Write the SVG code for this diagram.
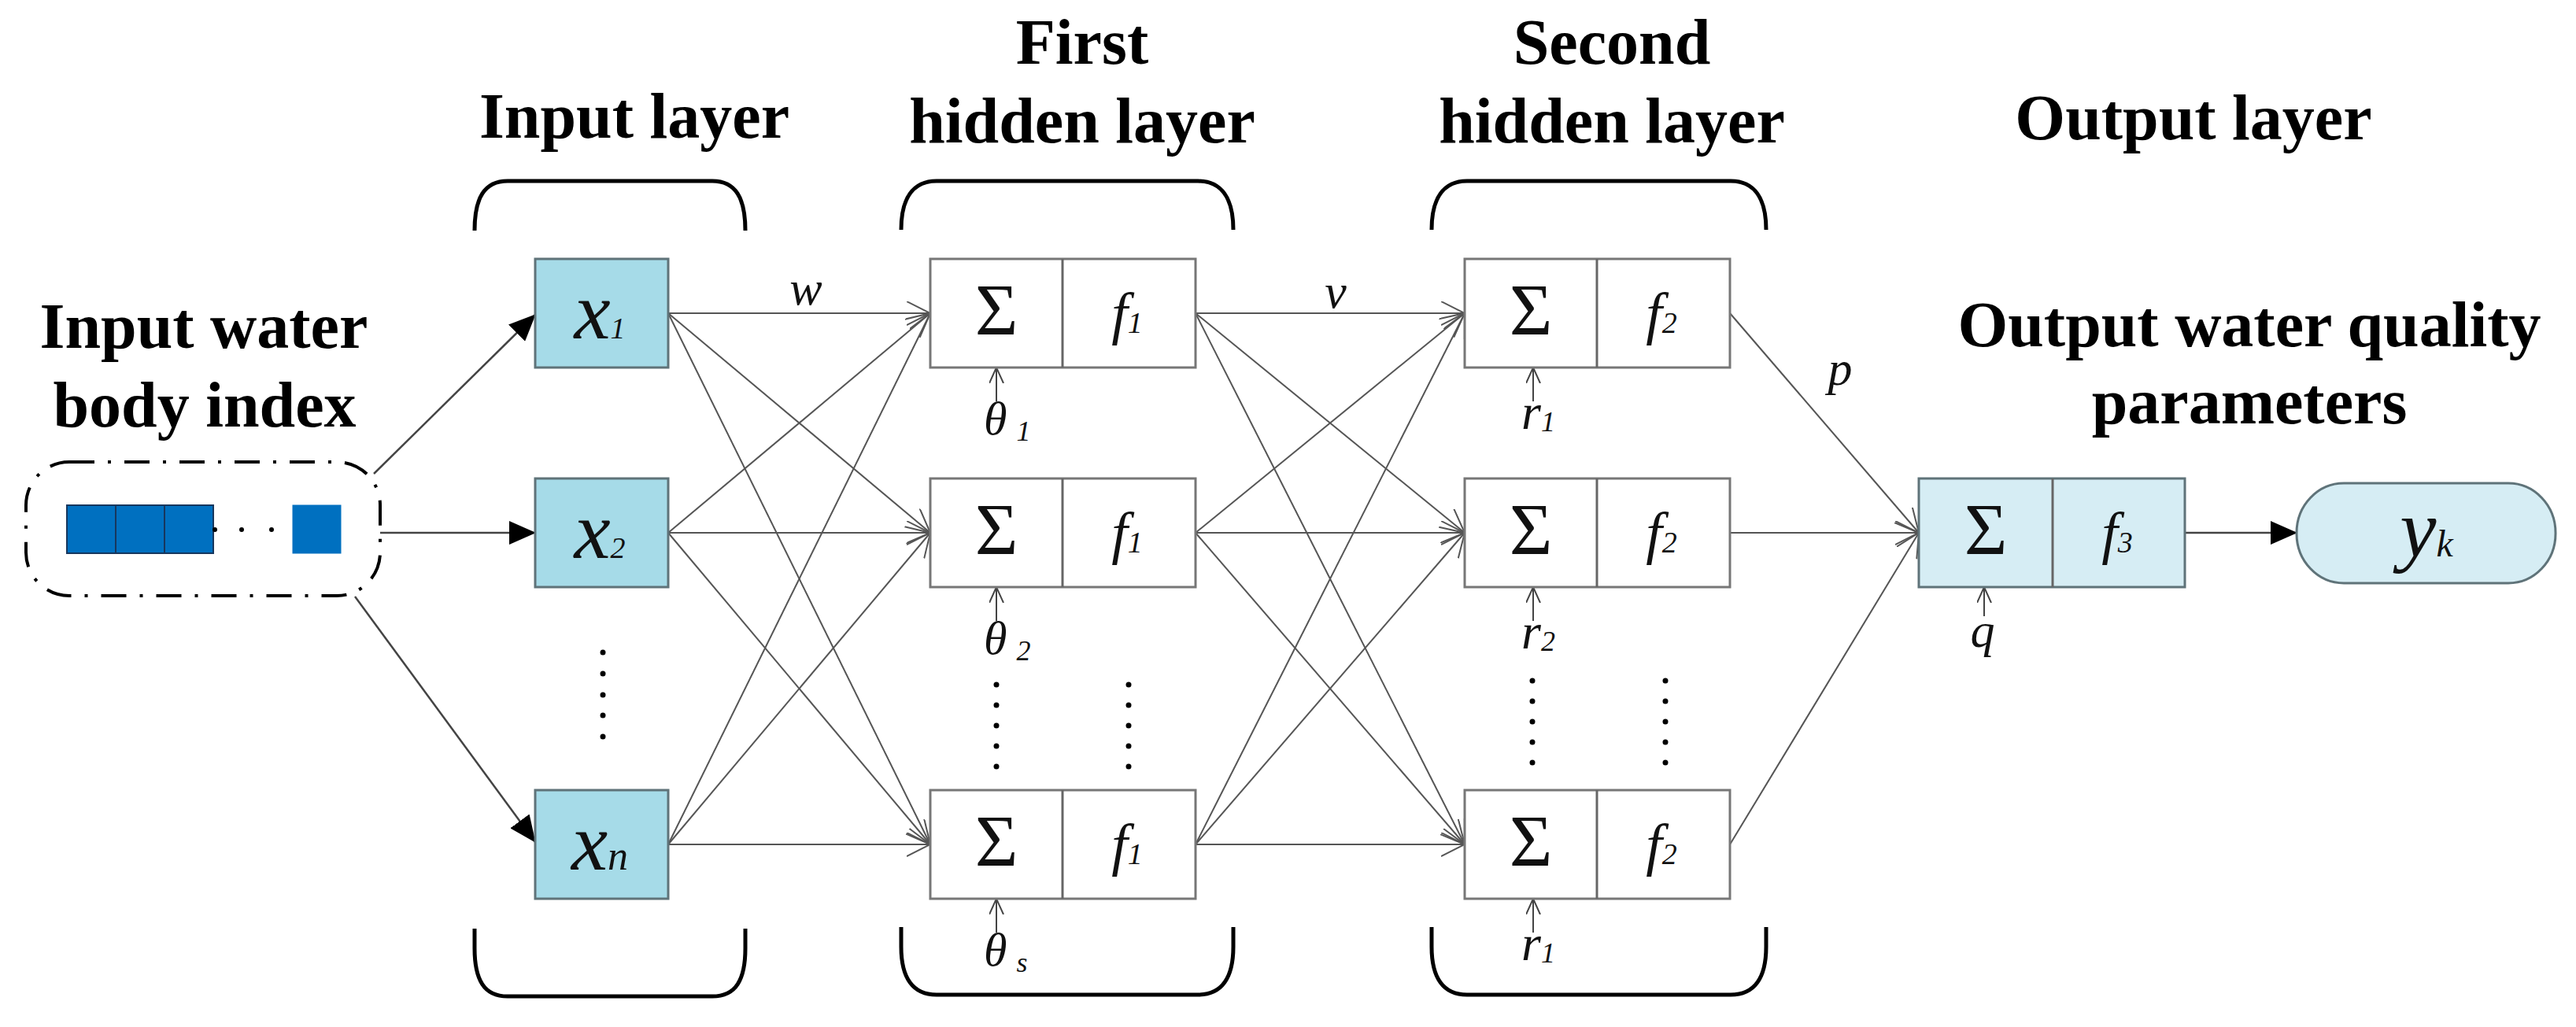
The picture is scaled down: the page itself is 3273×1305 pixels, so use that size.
<svg xmlns="http://www.w3.org/2000/svg" width="3273" height="1305" viewBox="0 0 3273 1305">
<style>
.hd{font-family:"Liberation Serif","Times New Roman",serif;font-weight:bold;font-size:82px;fill:#000;text-anchor:middle}
.it{font-family:"Liberation Serif","Times New Roman",serif;font-style:italic;fill:#111}
.sg{font-family:"Liberation Serif","Times New Roman",serif;font-size:94px;fill:#111;text-anchor:middle}
.inb{fill:#a6dbe8;stroke:#5f7379;stroke-width:3}
.hb{fill:#fff;stroke:#777;stroke-width:3}
.ob{fill:#d6edf4;stroke:#5f7379;stroke-width:3}
.dv{stroke:#666;stroke-width:3}
.br{fill:none;stroke:#000;stroke-width:5}
.cn{stroke:#555;stroke-width:2;fill:none}
.ar{stroke:#444;stroke-width:2.5;fill:none}
.bias{stroke:#444;stroke-width:2;fill:none}
.dot{fill:#000}
</style>
<defs>
<marker id="fa" markerWidth="34" markerHeight="30" refX="33" refY="15" orient="auto" markerUnits="userSpaceOnUse"><path d="M0,0 L34,15 L0,30 Z" fill="#000"/></marker>
<marker id="oa" markerWidth="32" markerHeight="32" refX="30" refY="15" orient="auto" markerUnits="userSpaceOnUse"><path d="M0,0 L30,15 L0,30" fill="none" stroke="#555" stroke-width="2"/></marker>
<marker id="ob" markerWidth="22" markerHeight="20" refX="20" refY="9" orient="auto" markerUnits="userSpaceOnUse"><path d="M0,0 L20,9 L0,18" fill="none" stroke="#444" stroke-width="2"/></marker>
</defs>
<rect width="3273" height="1305" fill="#fff"/>

<!-- headings -->
<g id="headings">
<text class="hd" x="259" y="442">Input water</text>
<text class="hd" x="260" y="542">body index</text>
<text class="hd" x="806" y="175">Input layer</text>
<text class="hd" x="1375" y="81">First</text>
<text class="hd" x="1375" y="181">hidden layer</text>
<text class="hd" x="2048" y="81">Second</text>
<text class="hd" x="2048" y="181">hidden layer</text>
<text class="hd" x="2787" y="177">Output layer</text>
<text class="hd" x="2858" y="440">Output water quality</text>
<text class="hd" x="2858" y="538">parameters</text>
</g>

<!-- brackets -->
<g id="brackets">
<path class="br" d="M603,293 C603,252 615,230 645,230 L905,230 C935,230 947,252 947,293"/>
<path class="br" d="M603,1180 L603,1205 C603,1245 615,1266 645,1266 L905,1266 C935,1266 947,1245 947,1205 L947,1180"/>
<path class="br" d="M1145,292 C1145,252 1160,230 1190,230 L1522,230 C1552,230 1567,252 1567,292"/>
<path class="br" d="M1145,1178 L1145,1203 C1145,1243 1160,1264 1190,1264 L1522,1264 C1552,1264 1567,1243 1567,1203 L1567,1178"/>
<path class="br" d="M1819,292 C1819,252 1834,230 1864,230 L2199,230 C2229,230 2244,252 2244,292"/>
<path class="br" d="M1819,1178 L1819,1203 C1819,1243 1834,1264 1864,1264 L2199,1264 C2229,1264 2244,1243 2244,1203 L2244,1178"/>
</g>

<!-- input vector node -->
<g id="input-vector">
<rect x="33" y="587" width="450" height="170" rx="55" ry="55" fill="none" stroke="#000" stroke-width="4" stroke-dasharray="32 17 4 17"/>
<rect x="85" y="642" width="62" height="61" fill="#0070c0" stroke="#17375e" stroke-width="2"/>
<rect x="147" y="642" width="62" height="61" fill="#0070c0" stroke="#17375e" stroke-width="2"/>
<rect x="209" y="642" width="62" height="61" fill="#0070c0" stroke="#17375e" stroke-width="2"/>
<rect x="372" y="642" width="61" height="61" fill="#0070c0" stroke="#0070c0" stroke-width="1"/>
<circle class="dot" cx="273" cy="673" r="3"/>
<circle class="dot" cx="307" cy="673" r="3"/>
<circle class="dot" cx="345" cy="673" r="3"/>
</g>

<!-- connectors -->
<g id="connectors">
<line class="ar" x1="475" y1="602" x2="680" y2="400" marker-end="url(#fa)"/>
<line class="ar" x1="483" y1="677" x2="680" y2="677" marker-end="url(#fa)"/>
<line class="ar" x1="451" y1="758" x2="680" y2="1070" marker-end="url(#fa)"/>

<line class="cn" x1="849" y1="398" x2="1182" y2="398" marker-end="url(#oa)"/>
<line class="cn" x1="849" y1="398" x2="1182" y2="677" marker-end="url(#oa)"/>
<line class="cn" x1="849" y1="398" x2="1182" y2="1073" marker-end="url(#oa)"/>
<line class="cn" x1="849" y1="677" x2="1182" y2="398" marker-end="url(#oa)"/>
<line class="cn" x1="849" y1="677" x2="1182" y2="677" marker-end="url(#oa)"/>
<line class="cn" x1="849" y1="677" x2="1182" y2="1073" marker-end="url(#oa)"/>
<line class="cn" x1="849" y1="1073" x2="1182" y2="398" marker-end="url(#oa)"/>
<line class="cn" x1="849" y1="1073" x2="1182" y2="677" marker-end="url(#oa)"/>
<line class="cn" x1="849" y1="1073" x2="1182" y2="1073" marker-end="url(#oa)"/>

<line class="cn" x1="1519" y1="398" x2="1861" y2="398" marker-end="url(#oa)"/>
<line class="cn" x1="1519" y1="398" x2="1861" y2="677" marker-end="url(#oa)"/>
<line class="cn" x1="1519" y1="398" x2="1861" y2="1073" marker-end="url(#oa)"/>
<line class="cn" x1="1519" y1="677" x2="1861" y2="398" marker-end="url(#oa)"/>
<line class="cn" x1="1519" y1="677" x2="1861" y2="677" marker-end="url(#oa)"/>
<line class="cn" x1="1519" y1="677" x2="1861" y2="1073" marker-end="url(#oa)"/>
<line class="cn" x1="1519" y1="1073" x2="1861" y2="398" marker-end="url(#oa)"/>
<line class="cn" x1="1519" y1="1073" x2="1861" y2="677" marker-end="url(#oa)"/>
<line class="cn" x1="1519" y1="1073" x2="1861" y2="1073" marker-end="url(#oa)"/>

<line class="cn" x1="2198" y1="398" x2="2438" y2="677" marker-end="url(#oa)"/>
<line class="cn" x1="2198" y1="677" x2="2438" y2="677" marker-end="url(#oa)"/>
<line class="cn" x1="2198" y1="1073" x2="2438" y2="677" marker-end="url(#oa)"/>

<line class="ar" x1="2776" y1="677" x2="2918" y2="677" marker-end="url(#fa)"/>

<line class="bias" x1="1266" y1="510" x2="1266" y2="467" marker-end="url(#ob)"/>
<line class="bias" x1="1266" y1="789" x2="1266" y2="746" marker-end="url(#ob)"/>
<line class="bias" x1="1266" y1="1185" x2="1266" y2="1142" marker-end="url(#ob)"/>
<line class="bias" x1="1948" y1="510" x2="1948" y2="467" marker-end="url(#ob)"/>
<line class="bias" x1="1948" y1="789" x2="1948" y2="746" marker-end="url(#ob)"/>
<line class="bias" x1="1948" y1="1185" x2="1948" y2="1142" marker-end="url(#ob)"/>
<line class="bias" x1="2521" y1="783" x2="2521" y2="746" marker-end="url(#ob)"/>
</g>

<!-- weight labels -->
<g id="weights">
<text class="it" x="1024" y="387" font-size="62" text-anchor="middle">w</text>
<text class="it" x="1697" y="391" font-size="62" text-anchor="middle">v</text>
<text class="it" x="2338" y="489" font-size="62" text-anchor="middle">p</text>
<text class="it" x="2519" y="822" font-size="62" text-anchor="middle">q</text>
<text class="it" x="1250" y="552" font-size="60">θ<tspan font-size="36" dx="12" dy="8">1</tspan></text>
<text class="it" x="1250" y="831" font-size="60">θ<tspan font-size="36" dx="12" dy="8">2</tspan></text>
<text class="it" x="1250" y="1227" font-size="60">θ<tspan font-size="36" dx="12" dy="8">s</tspan></text>
<text class="it" x="1933" y="545" font-size="64">r<tspan font-size="36" dy="3">1</tspan></text>
<text class="it" x="1933" y="824" font-size="64">r<tspan font-size="36" dy="3">2</tspan></text>
<text class="it" x="1933" y="1220" font-size="64">r<tspan font-size="36" dy="3">1</tspan></text>
</g>

<!-- input layer nodes -->
<g id="x1"><rect class="inb" x="680" y="329" width="169" height="138"/><text class="it" x="762" y="430" font-size="104" text-anchor="middle">x<tspan font-size="38">1</tspan></text></g>
<g id="x2"><rect class="inb" x="680" y="608" width="169" height="138"/><text class="it" x="762" y="709" font-size="104" text-anchor="middle">x<tspan font-size="38">2</tspan></text></g>
<g id="xn"><rect class="inb" x="680" y="1004" width="169" height="138"/><text class="it" x="762" y="1105" font-size="104" text-anchor="middle">x<tspan font-size="52">n</tspan></text></g>
<g id="input-dots"><circle class="dot" cx="766" cy="829" r="3.5"/><circle class="dot" cx="766" cy="856" r="3.5"/><circle class="dot" cx="766" cy="883" r="3.5"/><circle class="dot" cx="766" cy="909" r="3.5"/><circle class="dot" cx="766" cy="936" r="3.5"/></g>

<!-- first hidden layer -->
<g id="h1-1"><rect class="hb" x="1182" y="329" width="337" height="138"/><line class="dv" x1="1350" y1="329" x2="1350" y2="467"/><text class="sg" x="1266" y="425">Σ</text><text class="it" x="1432" y="423" font-size="74" text-anchor="middle">f<tspan font-size="38">1</tspan></text></g>
<g id="h1-2"><rect class="hb" x="1182" y="608" width="337" height="138"/><line class="dv" x1="1350" y1="608" x2="1350" y2="746"/><text class="sg" x="1266" y="704">Σ</text><text class="it" x="1432" y="702" font-size="74" text-anchor="middle">f<tspan font-size="38">1</tspan></text></g>
<g id="h1-s"><rect class="hb" x="1182" y="1004" width="337" height="138"/><line class="dv" x1="1350" y1="1004" x2="1350" y2="1142"/><text class="sg" x="1266" y="1100">Σ</text><text class="it" x="1432" y="1098" font-size="74" text-anchor="middle">f<tspan font-size="38">1</tspan></text></g>
<g id="h1-dots"><circle class="dot" cx="1266" cy="870" r="3.5"/><circle class="dot" cx="1266" cy="896" r="3.5"/><circle class="dot" cx="1266" cy="922" r="3.5"/><circle class="dot" cx="1266" cy="948" r="3.5"/><circle class="dot" cx="1266" cy="974" r="3.5"/><circle class="dot" cx="1434" cy="870" r="3.5"/><circle class="dot" cx="1434" cy="896" r="3.5"/><circle class="dot" cx="1434" cy="922" r="3.5"/><circle class="dot" cx="1434" cy="948" r="3.5"/><circle class="dot" cx="1434" cy="974" r="3.5"/></g>

<!-- second hidden layer -->
<g id="h2-1"><rect class="hb" x="1861" y="329" width="337" height="138"/><line class="dv" x1="2029" y1="329" x2="2029" y2="467"/><text class="sg" x="1945" y="425">Σ</text><text class="it" x="2111" y="423" font-size="74" text-anchor="middle">f<tspan font-size="38">2</tspan></text></g>
<g id="h2-2"><rect class="hb" x="1861" y="608" width="337" height="138"/><line class="dv" x1="2029" y1="608" x2="2029" y2="746"/><text class="sg" x="1945" y="704">Σ</text><text class="it" x="2111" y="702" font-size="74" text-anchor="middle">f<tspan font-size="38">2</tspan></text></g>
<g id="h2-t"><rect class="hb" x="1861" y="1004" width="337" height="138"/><line class="dv" x1="2029" y1="1004" x2="2029" y2="1142"/><text class="sg" x="1945" y="1100">Σ</text><text class="it" x="2111" y="1098" font-size="74" text-anchor="middle">f<tspan font-size="38">2</tspan></text></g>
<g id="h2-dots"><circle class="dot" cx="1947" cy="865" r="3.5"/><circle class="dot" cx="1947" cy="891" r="3.5"/><circle class="dot" cx="1947" cy="917" r="3.5"/><circle class="dot" cx="1947" cy="943" r="3.5"/><circle class="dot" cx="1947" cy="969" r="3.5"/><circle class="dot" cx="2116" cy="865" r="3.5"/><circle class="dot" cx="2116" cy="891" r="3.5"/><circle class="dot" cx="2116" cy="917" r="3.5"/><circle class="dot" cx="2116" cy="943" r="3.5"/><circle class="dot" cx="2116" cy="969" r="3.5"/></g>

<!-- output layer -->
<g id="out"><rect class="ob" x="2438" y="608" width="338" height="138"/><line class="dv" x1="2608" y1="608" x2="2608" y2="746"/><text class="sg" x="2523" y="704">Σ</text><text class="it" x="2690" y="702" font-size="74" text-anchor="middle">f<tspan font-size="38">3</tspan></text></g>
<g id="yk"><rect x="2918" y="614" width="329" height="127" rx="60" ry="63" fill="#d6edf4" stroke="#5f7379" stroke-width="3"/><text class="it" x="3083" y="707" font-size="104" text-anchor="middle">y<tspan font-size="48">k</tspan></text></g>
</svg>
